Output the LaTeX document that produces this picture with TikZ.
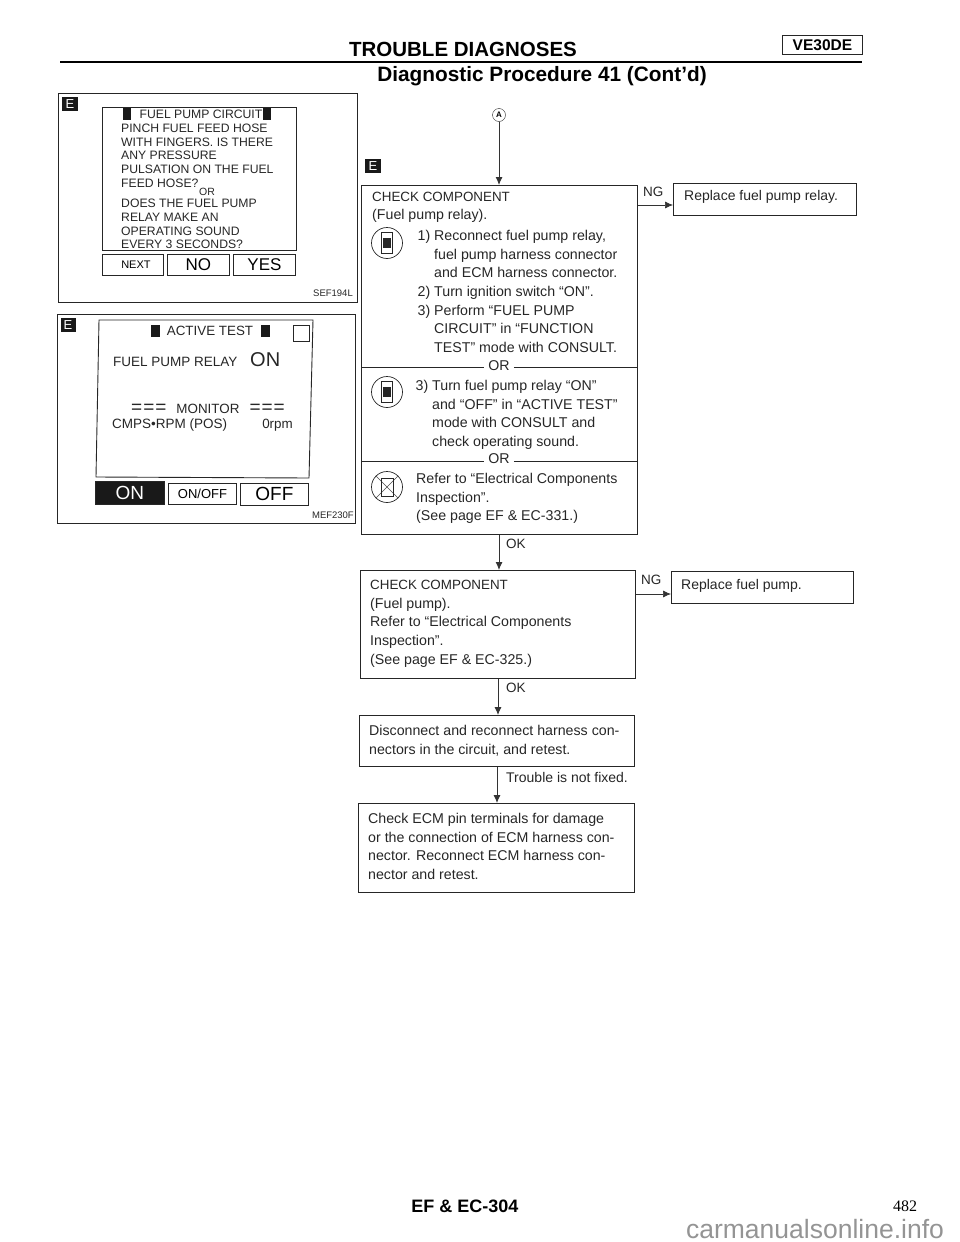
\documentclass[tikz,border=0pt]{standalone}
\usepackage{fontspec}
\setmainfont{Liberation Sans}
\newfontfamily\serifpage{Liberation Serif}
\usetikzlibrary{positioning,arrows.meta,shapes.geometric}
\newcommand{\capsline}[1]{{\fontsize{13.4}{18.7}\selectfont #1}}

\begin{document}
\begin{tikzpicture}[x=1pt,y=-1pt]
		\tikzstyle{box}=[rectangle, draw=black!85, line width=0.9pt, inner sep=0pt, anchor=north west]
		\tikzstyle{body}=[anchor=north west, align=left, inner sep=0pt, font=\fontsize{14.2}{18.7}\selectfont, text=black!85]
		\tikzstyle{short}=[inner sep=0pt, anchor=west, font=\fontsize{13.5}{14}\selectfont, text=black!85]
		\tikzstyle{screen}=[anchor=north west, align=left, inner sep=0pt, font=\fontsize{12.2}{13.7}\selectfont, text=black!85]
		\tikzstyle{panel}=[inner sep=0pt, font=\fontsize{13.4}{14}\selectfont, text=black!85]
		\tikzstyle{badge}=[rectangle, fill=black!90, text=white, inner sep=0pt, minimum width=16pt, minimum height=14pt, font=\fontsize{13}{13}\selectfont]
		\tikzstyle{flag}=[rectangle, fill=black!90, minimum width=9pt, minimum height=12pt, inner sep=0pt]
		\tikzstyle{connect}=[line width=0.9pt, draw=black!80, -{Latex[length=8pt,width=7pt]}]
		\tikzstyle{divider}=[line width=0.9pt, draw=black!85]
		\tikzstyle{tag}=[inner sep=0pt, font=\fontsize{9.5}{10}\selectfont, text=black!85]
		\tikzstyle{icon}=[circle, draw=black!85, line width=0.7pt, minimum size=31pt, inner sep=0pt]
		\tikzstyle{tool}=[rectangle, draw=black!85, line width=0.7pt, fill=white, minimum width=11pt, minimum height=21pt, inner sep=0pt]
		\tikzstyle{window}=[rectangle, fill=black!85, minimum width=8pt, minimum height=10pt, inner sep=0pt]
		\useasboundingbox (0,0) rectangle (960,1242);

		% header
		\node[inner sep=0pt, font=\fontsize{20.5}{21}\bfseries\selectfont] (title) at (463,49) {TROUBLE DIAGNOSES};
		\node[inner sep=0pt, font=\fontsize{20.8}{21}\bfseries\selectfont] (subtitle) at (542,76) {Diagnostic Procedure 41 (Cont'd)};
		\node[box, minimum width=80pt, minimum height=19pt, font=\fontsize{15.5}{16}\bfseries\selectfont] (engine) at (782,35) {VE30DE};
		\coordinate (ruleL) at (60,62);
		\coordinate (ruleR) at (862,62);
		\draw[line width=2.6pt] (ruleL) -- (ruleR);

		% left panels
		\node[box, minimum width=299pt, minimum height=209pt] (pumpfig) at (58,93) {};
		\node[badge] (pumpbadge) at (70,104) {E};
		\node[box, minimum width=194pt, minimum height=143pt] (pumpscreen) at (102,107) {};
		\node[flag, minimum width=8pt] (pumpflagL) at (127,114) {};
		\node[inner sep=0pt, font=\fontsize{12.2}{13}\selectfont, text=black!85] (pumphead) at (201,114) {FUEL PUMP CIRCUIT};
		\node[flag, minimum width=8pt] (pumpflagR) at (267,114) {};
		\node[screen] (pumptext) at (121,123.6) {PINCH FUEL FEED HOSE\\WITH FINGERS. IS THERE\\ANY PRESSURE\\PULSATION ON THE FUEL\\FEED HOSE?};
		\node[inner sep=0pt, font=\fontsize{10.5}{11}\selectfont, text=black!85] (pumpor) at (207,192) {OR};
		\node[screen] (pumptextB) at (121,199) {DOES THE FUEL PUMP\\RELAY MAKE AN\\OPERATING SOUND\\EVERY 3 SECONDS?};
		\node[box, minimum width=61pt, minimum height=21pt, font=\fontsize{11}{12}\selectfont] (next) at (102,254) {\hspace*{6pt}NEXT};
		\node[box, minimum width=62pt, minimum height=21pt, font=\fontsize{17}{17}\selectfont] (no) at (167,254) {NO};
		\node[box, minimum width=62pt, minimum height=21pt, font=\fontsize{17}{17}\selectfont] (yes) at (233,254) {YES};
		\node[tag, anchor=east] (sef) at (353,293) {SEF194L};

		\node[box, minimum width=298pt, minimum height=209pt] (relayfig) at (57,314) {};
		\node[badge, minimum width=15pt] (relaybadge) at (68,325) {E};
		\draw[line width=0.9pt, draw=black!85] (99,320) -- (313,320) -- (309,478) -- (96,477) -- cycle;
		\node[flag] (flagL) at (155,331) {};
		\node[panel] (active) at (210,331) {ACTIVE TEST};
		\node[flag] (flagR) at (265,331) {};
		\node[box, minimum width=16pt, minimum height=16pt] (square) at (293,325) {};
		\node[panel, anchor=west, font=\fontsize{13.5}{14}\selectfont] (relayname) at (113,362) {FUEL PUMP RELAY};
		\node[panel, anchor=west, font=\fontsize{20}{20}\selectfont] (relayon) at (250,360) {ON};
		\node[panel] (monitor) at (208,409) {\fontsize{19}{19}\selectfont =\kern1pt=\kern1pt=\hspace{10pt}\fontsize{13.4}{14}\selectfont MONITOR\hspace{10pt}\fontsize{19}{19}\selectfont =\kern1pt=\kern1pt=};
		\node[panel, anchor=west, font=\fontsize{13.5}{14}\selectfont] (cmps) at (112,425) {CMPS\textbullet RPM (POS)};
		\node[panel, anchor=east] (rpm) at (293,425) {0rpm};
		\node[box, fill=black!90, text=white, minimum width=69pt, minimum height=23pt, font=\fontsize{19}{19}\selectfont] (on) at (95,481) {ON};
		\node[box, minimum width=68pt, minimum height=21pt, font=\fontsize{13}{13}\selectfont] (onoff) at (168,483) {ON/OFF};
		\node[box, minimum width=68pt, minimum height=22pt, font=\fontsize{19}{19}\selectfont] (off) at (240,483) {OFF};
		\node[tag, anchor=east] (mef) at (354,515) {MEF230F};

		% flow
		\node[circle, draw=black!85, inner sep=0pt, minimum size=13pt, font=\fontsize{8}{8}\bfseries\selectfont] (start) at (499,115) {A};
		\node[badge] (checkbadge) at (373,166) {E};
		\node[box, minimum width=276pt, minimum height=349pt] (relaycheck) at (361,185) {};
		\node[body] (relaytext) at (372,191.5) {\capsline{CHECK COMPONENT}\\(Fuel pump relay).};
		\node[body] (relaysteps) at (434,230) {\llap{1) }Reconnect fuel pump relay,\\fuel pump harness connector\\and ECM harness connector.\\\llap{2) }Turn ignition switch ``ON''.\\\llap{3) }Perform ``FUEL PUMP\\CIRCUIT'' in ``FUNCTION\\TEST'' mode with CONSULT.};
		\node[icon] (iconA) at (387,243) {};
		\node[tool] (toolA) at (iconA) {};
		\node[window] at (toolA) {};
		\node[body, fill=white, inner xsep=4pt, anchor=center] (orA) at (499,366) {OR};
		\coordinate (orAL) at (361,367);
		\coordinate (orAR) at (637,367);
		\draw[divider] (orAL) -- (orAL -| orA.west);
		\draw[divider] (orAR -| orA.east) -- (orAR);
		\node[body] (activesteps) at (432,380) {\llap{3) }Turn fuel pump relay ``ON''\\and ``OFF'' in ``ACTIVE TEST''\\mode with CONSULT and\\check operating sound.};
		\node[icon] (iconB) at (387,392) {};
		\node[tool] (toolB) at (iconB) {};
		\node[window] at (toolB) {};
		\node[body, fill=white, inner xsep=4pt, anchor=center] (orB) at (499,459) {OR};
		\coordinate (orBL) at (361,461);
		\coordinate (orBR) at (637,461);
		\draw[divider] (orBL) -- (orBL -| orB.west);
		\draw[divider] (orBR -| orB.east) -- (orBR);
		\node[body] (refersteps) at (416,473) {Refer to ``Electrical Components\\Inspection''.\\(See page EF \& EC-331.)};
		\node[icon] (iconC) at (387,487) {};
		\draw[draw=black!70, line width=0.6pt] (iconC.north west) -- (iconC.south east);
		\draw[draw=black!70, line width=0.6pt] (iconC.north east) -- (iconC.south west);
		\node[tool, minimum width=12pt, minimum height=18pt, fill=none] (toolC) at (iconC) {};

		\node[box, minimum width=275pt, minimum height=108pt] (pumpcheck) at (360,570) {};
		\node[body] (pumptextC) at (370,580) {\capsline{CHECK COMPONENT}\\(Fuel pump).\\Refer to ``Electrical Components\\Inspection''.\\(See page EF \& EC-325.)};
		\node[box, minimum width=275pt, minimum height=51pt] (harness) at (359,715) {};
		\node[body] (harnesstext) at (369,725) {Disconnect and reconnect harness con-\\nectors in the circuit, and retest.};
		\node[box, minimum width=276pt, minimum height=89pt] (ecmpins) at (358,803) {};
		\node[body] (ecmtext) at (368,813) {Check ECM pin terminals for damage\\or the connection of ECM harness con-\\nector. Reconnect ECM harness con-\\nector and retest.};

		\node[box, minimum width=183pt, minimum height=32pt] (replacerelay) at (673,183) {};
		\node[short, font=\fontsize{14}{14}\selectfont] (replacerelaytext) at (684,197) {Replace fuel pump relay.};
		\node[box, minimum width=182pt, minimum height=32pt] (replacepump) at (671,571) {};
		\node[short, font=\fontsize{14}{14}\selectfont] (replacepumptext) at (681,586) {Replace fuel pump.};

		\coordinate (ngA) at (650,205);
		\coordinate (ngB) at (650,594);
		\coordinate (joinA) at (499,550);
		\coordinate (joinB) at (498,700);
		\coordinate (joinC) at (497,785);
		\draw[connect] (start) -- (start |- relaycheck.north);
		\draw[connect, line width=0.7pt] (relaycheck.east |- ngA) -- (replacerelay.west |- ngA);
		\draw[connect, line width=0.7pt] (pumpcheck.east |- ngB) -- (replacepump.west |- ngB);
		\draw[connect] (relaycheck.south -| joinA) -- (pumpcheck.north -| joinA);
		\draw[connect] (pumpcheck.south -| joinB) -- (harness.north -| joinB);
		\draw[connect] (harness.south -| joinC) -- (ecmpins.north -| joinC);
		\node[short] (ngAlabel) at (643,192) {NG};
		\node[short] (ngBlabel) at (641,580) {NG};
		\node[short] (okA) at (506,544) {OK};
		\node[short] (okB) at (506,688) {OK};
		\node[short, font=\fontsize{14}{14}\selectfont] (fixed) at (506,777) {Trouble is not fixed.};

		% footer
		\node[inner sep=0pt, font=\fontsize{18}{20}\bfseries\selectfont] (footer) at (465,1206) {EF \& EC-304};
		\node[inner sep=0pt, font=\fontsize{16}{16}\serifpage\selectfont] (pageno) at (905,1206) {482};
		\node[inner sep=0pt, anchor=base, text=black!42, font=\fontsize{26.5}{27}\selectfont] (site) at (815,1238) {carmanualsonline.info};
\end{tikzpicture}
\end{document}
